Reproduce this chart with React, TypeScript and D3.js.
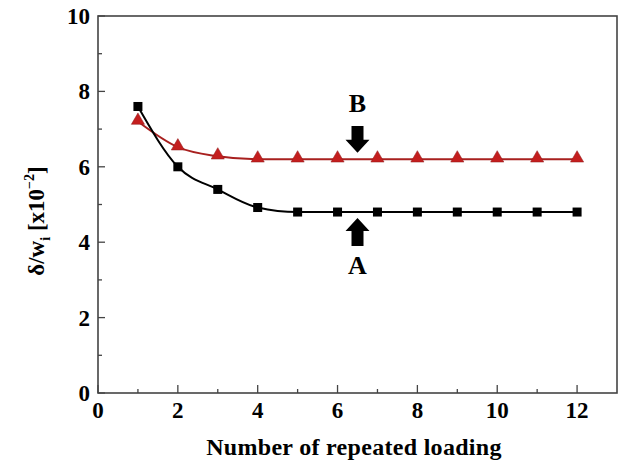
import React from 'react';
import * as d3 from 'd3';

// repeated loading cycles and measured delta / w_i (x10^-2)
const cycles = [1, 2, 3, 4, 5, 6, 7, 8, 9, 10, 11, 12];
const seriesA = [7.6, 6.0, 5.4, 4.92, 4.8, 4.8, 4.8, 4.8, 4.8, 4.8, 4.8, 4.8];
const seriesB = [7.2, 6.52, 6.28, 6.2, 6.2, 6.2, 6.2, 6.2, 6.2, 6.2, 6.2, 6.2];
const xTicks = [0, 2, 4, 6, 8, 10, 12];
const yTicks = [0, 2, 4, 6, 8, 10];
const xMinor = [1, 3, 5, 7, 9, 11];
const yMinor = [1, 3, 5, 7, 9];

// annotation arrows: label, x position, arrow base, arrow tip, label y
const notes = [
  { label: 'B', x: 6.5, from: 7.08, to: 6.37, textY: 7.7 },
  { label: 'A', x: 6.5, from: 3.9, to: 4.64, textY: 3.4 }
];

const width = 619;
const height = 466;
const margin = { top: 16, right: 2, bottom: 73, left: 98 };
const font = '"Liberation Serif", "Times New Roman", serif';

export default function App() {
  const x = d3.scaleLinear().domain([0, 13]).range([margin.left, width - margin.right]);
  const y = d3.scaleLinear().domain([0, 10]).range([height - margin.bottom, margin.top]);

  const line = d3.line<number>()
    .x((d, i) => x(cycles[i]))
    .y((d) => y(d))
    .curve(d3.curveMonotoneX);

  const tri = d3.symbol().type(d3.symbolTriangle).size(75)();

  const arrow = (n) => {
    const cx = x(n.x);
    const y0 = y(n.from);
    const y1 = y(n.to);
    const dir = y1 > y0 ? 1 : -1;
    const head = 13;
    const yh = y1 - dir * head;
    const pts = [
      [cx - 6, y0], [cx + 6, y0], [cx + 6, yh], [cx + 12, yh],
      [cx, y1], [cx - 12, yh], [cx - 6, yh]
    ];
    return 'M' + pts.map((p) => p.join(',')).join('L') + 'Z';
  };

  const x0 = x(0), x1 = x(13), y0 = y(0), y1 = y(10);

  return (
    <svg width={width} height={height} style={{ position: 'absolute', left: 0, top: 0, background: '#fff' }}>
      {/* ticks */}
      {xTicks.map((t) => (
        <line key={'xt' + t} x1={x(t)} x2={x(t)} y1={y0} y2={y0 - 8} stroke="#444" strokeWidth={1.3} />
      ))}
      {xMinor.map((t) => (
        <line key={'xm' + t} x1={x(t)} x2={x(t)} y1={y0} y2={y0 - 4} stroke="#444" strokeWidth={1.3} />
      ))}
      {yTicks.map((t) => (
        <line key={'yt' + t} x1={x0} x2={x0 + 7} y1={y(t)} y2={y(t)} stroke="#444" strokeWidth={1.3} />
      ))}
      {yMinor.map((t) => (
        <line key={'ym' + t} x1={x0} x2={x0 + 4} y1={y(t)} y2={y(t)} stroke="#444" strokeWidth={1.3} />
      ))}
      <rect x={x0} y={y1} width={x1 - x0} height={y0 - y1} fill="none" stroke="#444" strokeWidth={1.6} />

      {/* tick labels */}
      {xTicks.map((t) => (
        <text key={'xl' + t} x={x(t)} y={y0 + 25} textAnchor="middle" fontFamily={font} fontWeight="bold" fontSize={23}>{t}</text>
      ))}
      {yTicks.map((t) => (
        <text key={'yl' + t} x={x0 - 8} y={y(t) + 8} textAnchor="end" fontFamily={font} fontWeight="bold" fontSize={23}>{t}</text>
      ))}

      {/* axis titles */}
      <text x={354} y={455} textAnchor="middle" fontFamily={font} fontWeight="bold" fontSize={24} letterSpacing={0.3}>
        Number of repeated loading
      </text>
      <text transform="translate(44,221) rotate(-90)" textAnchor="middle" fontFamily={font} fontWeight="bold" fontSize={23}>
        δ/w<tspan fontSize={14} dy={6}>i</tspan>
        <tspan dy={-6}> [x10</tspan>
        <tspan fontSize={14} dy={-10}>−2</tspan>
        <tspan dy={10}>]</tspan>
      </text>

      {/* series B */}
      <path d={line(seriesB)} fill="none" stroke="#a8201f" strokeWidth={2} />
      {seriesB.map((v, i) => (
        <path key={'b' + i} d={tri} transform={`translate(${x(cycles[i])},${y(v) - 1})`} fill="#c41e1e" stroke="#8e1a1a" strokeWidth={0.5} />
      ))}

      {/* series A */}
      <path d={line(seriesA)} fill="none" stroke="#000" strokeWidth={2} />
      {seriesA.map((v, i) => (
        <rect key={'a' + i} x={x(cycles[i]) - 4.5} y={y(v) - 4.5} width={9} height={9} fill="#000" />
      ))}

      {/* annotations */}
      {notes.map((n) => (
        <g key={n.label}>
          <path d={arrow(n)} fill="#000" />
          <text x={x(n.x)} y={y(n.textY) + 9} textAnchor="middle" fontFamily={font} fontWeight="bold" fontSize={26}>{n.label}</text>
        </g>
      ))}
    </svg>
  );
}
